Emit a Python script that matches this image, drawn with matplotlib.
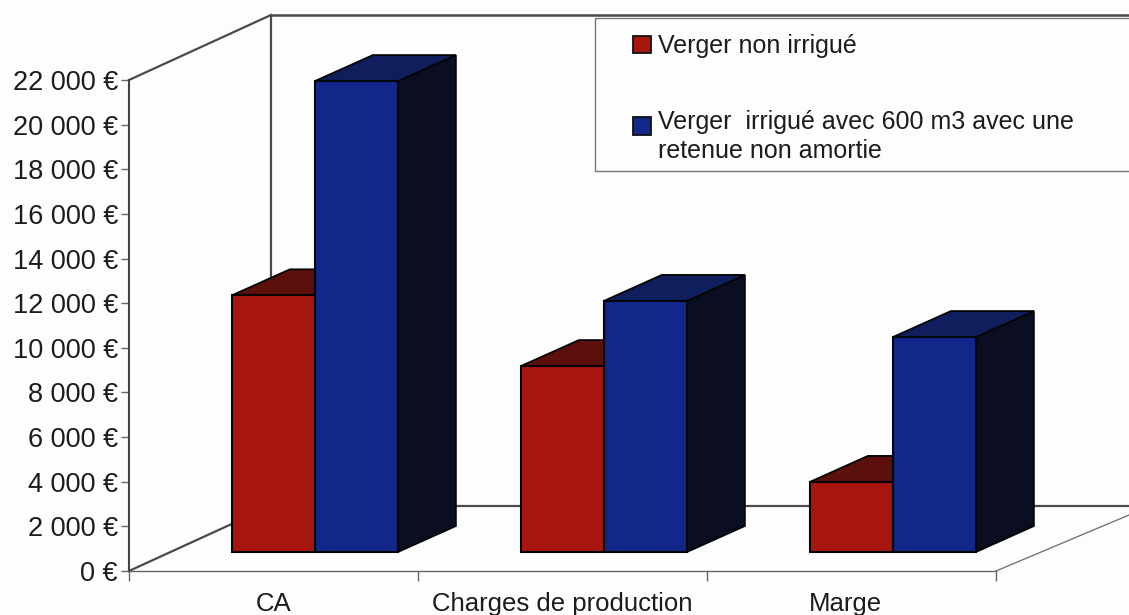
import matplotlib
matplotlib.use("Agg")
import matplotlib.pyplot as plt
from matplotlib.patches import Patch, Polygon, Rectangle

plt.rcParams["font.family"] = ["Liberation Sans", "DejaVu Sans"]

categories = ["CA", "Charges de production", "Marge"]
non_irrigue = [11500, 8330, 3140]
irrigue = [21100, 11250, 9630]
y_ticks = list(range(0, 22001, 2000))
y_labels = ["0 €", "2 000 €", "4 000 €", "6 000 €", "8 000 €", "10 000 €", "12 000 €",
            "14 000 €", "16 000 €", "18 000 €", "20 000 €", "22 000 €"]
legend_labels = ["Verger non irrigué", "Verger  irrigué avec 600 m3 avec une\nretenue non amortie"]

W, H = 1129, 615
# echelle : 1 categorie = 289 px, 22000 euros = 491 px
PX_CAT = 289.0
PX_EUR = 491.0 / 22000

def dx(px):
    return px / PX_CAT

def dy(px):
    return px / PX_EUR

fig = plt.figure(figsize=(W / 100, H / 100), dpi=100, facecolor="#fdfdfd")
ax = fig.add_axes([0, 0, 1, 1], facecolor="none")
ax.set_xlim(dx(-129), dx(W - 129))
ax.set_ylim(dy(571 - H), dy(571))

# parois du fond
wall_x = dx(142)
wall_y = dy(65)
wall_c = "#4a4a4a"
ax.plot([0, wall_x], [22000, 22000 + wall_y], color=wall_c, lw=1.6, zorder=1)
ax.plot([wall_x, wall_x], [wall_y, 22000 + wall_y], color=wall_c, lw=1.6, zorder=1)
ax.plot([wall_x, 5], [22000 + wall_y, 22000 + wall_y], color=wall_c, lw=1.8, zorder=1)
ax.plot([wall_x, 5], [wall_y, wall_y], color=wall_c, lw=1.6, zorder=1)
ax.plot([0, wall_x], [0, wall_y], color=wall_c, lw=1.6, zorder=1)
ax.plot([3, 3 + dx(133)], [0, dy(56)], color="#777777", lw=1.0, zorder=1)

# barres en faux 3D
bar_w = dx(83)
depth_x = dx(58)
depth_y = dy(26)
base = dy(19)
group_start = 0.356

def draw_bar(x, value, front, top, side, z):
    t = base + value
    r = x + bar_w
    ax.add_patch(Polygon([(r, base), (r + depth_x, base + depth_y), (r + depth_x, t + depth_y), (r, t)],
                         fc=side, ec="#050505", lw=1.3, zorder=z))
    ax.add_patch(Polygon([(x, t), (x + depth_x, t + depth_y), (r + depth_x, t + depth_y), (r, t)],
                         fc=top, ec="#050505", lw=1.3, zorder=z))
    ax.bar(x, value, bar_w, bottom=base, align="edge", color=front, edgecolor="#050505", lw=1.5, zorder=z + 0.5)

for i in range(len(categories)):
    x0 = i + group_start
    draw_bar(x0, non_irrigue[i], "#a81610", "#5c100c", "#0b0d1c", 3)
    draw_bar(x0 + bar_w, irrigue[i], "#13268a", "#0f1e5c", "#0a0e20", 4)

# axes
for s in ["top", "right"]:
    ax.spines[s].set_visible(False)
ax.spines["left"].set_position(("data", 0))
ax.spines["left"].set_bounds(0, 22000)
ax.spines["left"].set_color("#444444")
ax.spines["left"].set_linewidth(1.5)
ax.spines["bottom"].set_position(("data", 0))
ax.spines["bottom"].set_bounds(0, 3)
ax.spines["bottom"].set_color("#666666")
ax.spines["bottom"].set_linewidth(1.0)

ax.set_yticks(y_ticks)
ax.set_yticklabels(y_labels, fontsize=19.5, color="#1c1c1c")
ax.tick_params(axis="y", length=6, width=1, color="#666666", pad=2)
ax.set_xticks([0, 1, 2, 3])
ax.set_xticklabels([])
ax.tick_params(axis="x", which="major", length=7, width=1, color="#666666")
ax.set_xticks([0.5, 1.5, 2.48], minor=True)
ax.set_xticklabels(categories, minor=True, fontsize=18.5, color="#1c1c1c")
ax.tick_params(axis="x", which="minor", length=0, pad=15)

# legende
fig.add_artist(Rectangle((595 / W, 1 - 171 / H), 560 / W, 153 / H, transform=fig.transFigure,
                         fc="#fdfdfd", ec="#777777", lw=1.0, zorder=5))
handles = [Patch(fc="#a81610", ec="#111111", lw=1.3), Patch(fc="#13268a", ec="#111111", lw=1.3)]
leg = fig.legend(handles, legend_labels, loc="upper left", bbox_to_anchor=(628 / W, 1 - 29 / H),
                 frameon=False, fontsize=18, handlelength=0.7, handleheight=0.7, handletextpad=0.3,
                 labelspacing=2.07, borderpad=0.2, borderaxespad=0, labelcolor="#1c1c1c")
leg.set_zorder(6)
leg.get_texts()[1].set_linespacing(1.3)
# le carre bleu reste sur la premiere ligne du libelle
p = leg.legend_handles[1]
p.set_y(p.get_y() + 8)

fig.savefig("out.png", dpi=100, facecolor=fig.get_facecolor())
